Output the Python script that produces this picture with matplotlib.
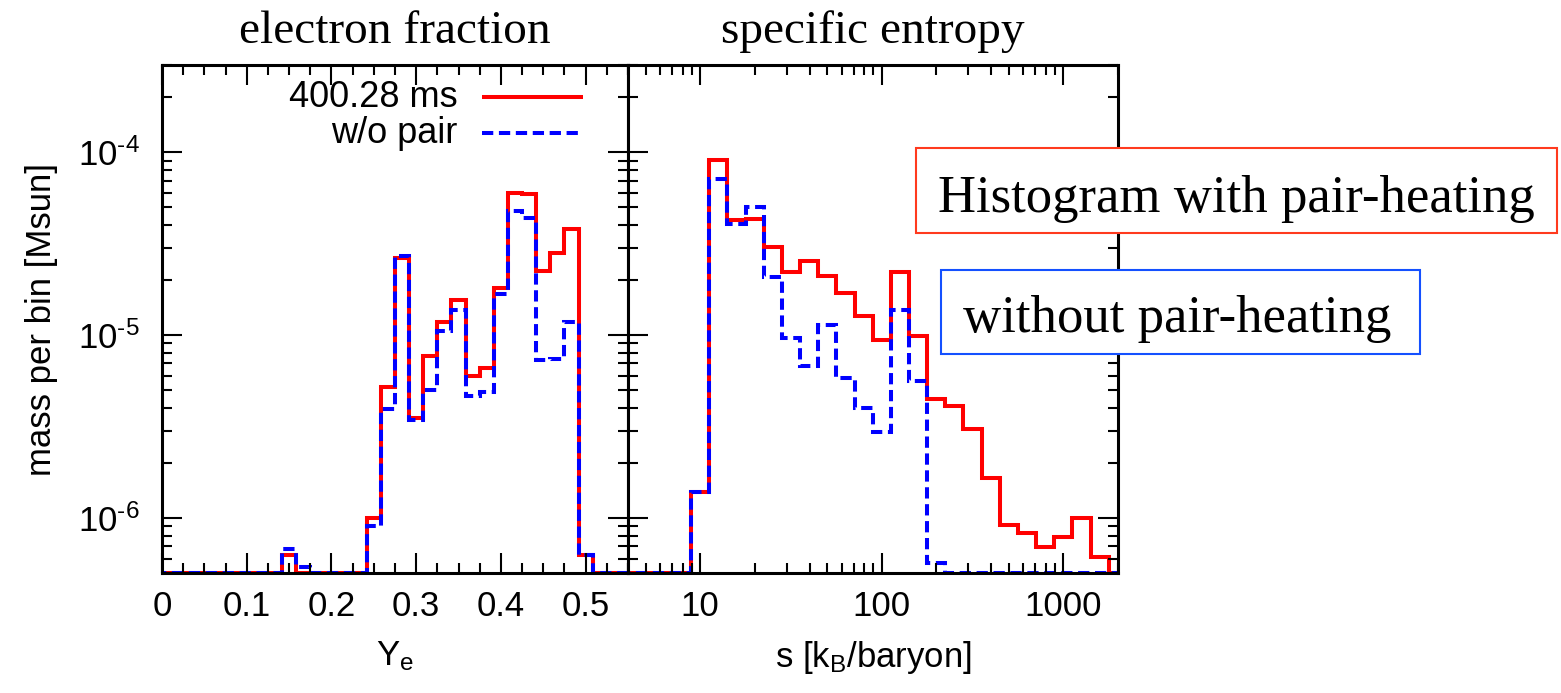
import numpy as np
import matplotlib
matplotlib.use("Agg")
import matplotlib.pyplot as plt
from matplotlib import ticker
from matplotlib.lines import Line2D
from matplotlib.patches import Rectangle

plt.rcParams["font.family"] = ["Liberation Sans", "DejaVu Sans"]
plt.rcParams["mathtext.fontset"] = "custom"
plt.rcParams["mathtext.rm"] = "Liberation Sans"
plt.rcParams["mathtext.it"] = "Liberation Sans"
plt.rcParams["axes.unicode_minus"] = False

# ---- electron fraction histogram (bin centres k/60, width 1/60) ----
ye_centers = np.arange(34) / 60.0
ye_with_pair = [0, 0, 0, 0, 0, 0, 0, 0, 0, 6.3e-7,
                0, 0, 0, 0, 0, 1.0e-6, 5.2e-6, 2.65e-5, 3.5e-6, 7.7e-6,
                1.18e-5, 1.55e-5, 6.0e-6, 6.6e-6, 1.8e-5, 6.0e-5, 5.9e-5, 2.25e-5, 2.8e-5, 3.8e-5,
                6.3e-7, 0, 0, 0]
ye_without_pair = [0, 0, 0, 0, 0, 0, 0, 0, 0, 6.8e-7,
                   5.4e-7, 0, 0, 0, 0, 9.0e-7, 3.95e-6, 2.7e-5, 3.45e-6, 5.0e-6,
                   1.05e-5, 1.37e-5, 4.65e-6, 4.9e-6, 1.67e-5, 4.8e-5, 4.35e-5, 7.3e-6, 7.4e-6, 1.18e-5,
                   6.3e-7, 0, 0, 0]

# ---- specific entropy histogram (10 log bins per decade) ----
s_log_centers = [0.6, 0.7, 0.8, 0.9, 1.0, 1.1, 1.2, 1.3, 1.4, 1.5, 1.6, 1.7, 1.8, 1.9,
                 2.0, 2.1, 2.2, 2.3, 2.4, 2.5, 2.6, 2.7, 2.8, 2.9, 3.0, 3.1, 3.2, 3.3]
s_with_pair = [0, 0, 0, 0, 1.38e-6, 9.1e-5, 4.25e-5, 4.3e-5, 3.05e-5, 2.2e-5, 2.55e-5, 2.1e-5, 1.7e-5, 1.27e-5,
               9.4e-6, 2.2e-5, 9.9e-6, 4.45e-6, 4.1e-6, 3.05e-6, 1.65e-6, 9.2e-7, 8.3e-7, 6.9e-7,
               7.9e-7, 1.0e-6, 6.1e-7, 0]
s_without_pair = [0, 0, 0, 0, 1.38e-6, 7.1e-5, 4.05e-5, 5.0e-5, 2.07e-5, 9.7e-6, 6.8e-6, 1.13e-5, 5.8e-6, 4.0e-6,
                  2.95e-6, 1.38e-5, 5.6e-6, 5.7e-7, 0, 0, 0, 0, 0, 0,
                  0, 0, 0, 0]

YMIN, YMAX = 5e-7, 3e-4
RED = "#ff0000"
BLUE = "#0000ff"
LW = 2.9
DASH = (0, (2.8, 1.4))


def floor(v):
    v = np.asarray(v, dtype=float)
    return np.where(v > 0, v, YMIN)


def decade_label(v, pos):
    e = int(round(np.log10(v)))
    return r"$\mathregular{10^{\text{%d}}}$" % e


ye_c = np.asarray(ye_centers)
ye_edges = np.concatenate([ye_c - 0.5 / 60, [ye_c[-1] + 0.5 / 60]])
lc = np.asarray(s_log_centers)
s_edges = 10 ** np.concatenate([lc - 0.05, [lc[-1] + 0.05]])

fig = plt.figure(figsize=(15.61, 6.93), dpi=100)
W, H = 1561, 693
ax1 = fig.add_axes([162 / W, 1 - 573 / H, 466 / W, 508 / H])
ax2 = fig.add_axes([628 / W, 1 - 573 / H, 490 / W, 508 / H])

for ax in (ax1, ax2):
    ax.set_yscale("log")
    ax.set_ylim(YMIN, YMAX)
    ax.yaxis.set_major_formatter(ticker.FuncFormatter(decade_label))
    for sp in ax.spines.values():
        sp.set_linewidth(2.2)
    ax.tick_params(which="both", direction="in", top=True, right=True,
                   width=1.5, labelsize=25)
    ax.tick_params(which="major", length=14.5)
    ax.tick_params(which="minor", length=7.5)
    ax.tick_params(axis="x", pad=12)
    ax.tick_params(axis="y", pad=16)

# left panel: electron fraction
ax1.stairs(floor(ye_with_pair), ye_edges, baseline=None, color=RED, lw=LW)
ax1.stairs(floor(ye_without_pair), ye_edges, baseline=None, color=BLUE, lw=LW, linestyle=DASH)
ax1.set_xlim(0, 0.55)
ax1.xaxis.set_major_locator(ticker.MultipleLocator(0.1))
ax1.xaxis.set_minor_locator(ticker.MultipleLocator(0.025))
ax1.xaxis.set_major_formatter(ticker.FormatStrFormatter("%g"))
ax1.set_xlabel(r"Y$_\mathregular{e}$", fontsize=25, labelpad=12)
ax1.set_ylabel("mass per bin [Msun]", fontsize=25, labelpad=14)
ax1.set_title("electron fraction", family=["Liberation Serif", "DejaVu Serif"],
              fontsize=34, pad=16)

# legend drawn in the upper part of the left panel
ax1.add_line(Line2D([0.687, 0.903], [0.937, 0.937], transform=ax1.transAxes,
                    color=RED, lw=LW, solid_capstyle="butt"))
ax1.add_line(Line2D([0.687, 0.903], [0.866, 0.866], transform=ax1.transAxes,
                    color=BLUE, lw=LW, linestyle=DASH))
ax1.text(0.635, 0.937, "400.28 ms", transform=ax1.transAxes, ha="right",
         va="center", fontsize=26)
ax1.text(0.635, 0.866, "w/o pair", transform=ax1.transAxes, ha="right",
         va="center", fontsize=26)

# right panel: specific entropy
ax2.stairs(floor(s_with_pair), s_edges, baseline=None, color=RED, lw=LW)
ax2.stairs(floor(s_without_pair), s_edges, baseline=None, color=BLUE, lw=LW, linestyle=DASH)
ax2.set_xscale("log")
ax2.set_xlim(4, 2000)
ax2.set_ylim(YMIN, YMAX)
ax2.xaxis.set_major_locator(ticker.LogLocator(base=10, numticks=10))
ax2.xaxis.set_minor_locator(ticker.LogLocator(base=10, subs=np.arange(2, 10), numticks=20))
ax2.xaxis.set_major_formatter(ticker.FormatStrFormatter("%g"))
ax2.xaxis.set_minor_formatter(ticker.NullFormatter())
ax2.tick_params(axis="y", labelleft=False)
ax2.set_xlabel(r"s [k$_\mathregular{B}$/baryon]", fontsize=25, labelpad=12)
ax2.set_title("specific entropy", family=["Liberation Serif", "DejaVu Serif"],
              fontsize=34, pad=16)

# annotation boxes
serif = ["Liberation Serif", "DejaVu Serif"]
fig.patches.append(Rectangle((916 / W, 1 - 233 / H), 641 / W, 85 / H,
                             transform=fig.transFigure, fill=True, facecolor="white",
                             edgecolor="#ff3a1e", lw=1.5, zorder=5))
fig.text(1236.5 / W, 1 - 212 / H, "Histogram with pair-heating", family=serif,
         fontsize=38, ha="center", va="baseline", zorder=6)
fig.patches.append(Rectangle((941 / W, 1 - 354 / H), 479 / W, 84 / H,
                             transform=fig.transFigure, fill=True, facecolor="white",
                             edgecolor="#1450ff", lw=1.5, zorder=5))
fig.text(1177 / W, 1 - 332 / H, "without pair-heating", family=serif,
         fontsize=38, ha="center", va="baseline", zorder=6)

fig.savefig("out.png", dpi=100)
